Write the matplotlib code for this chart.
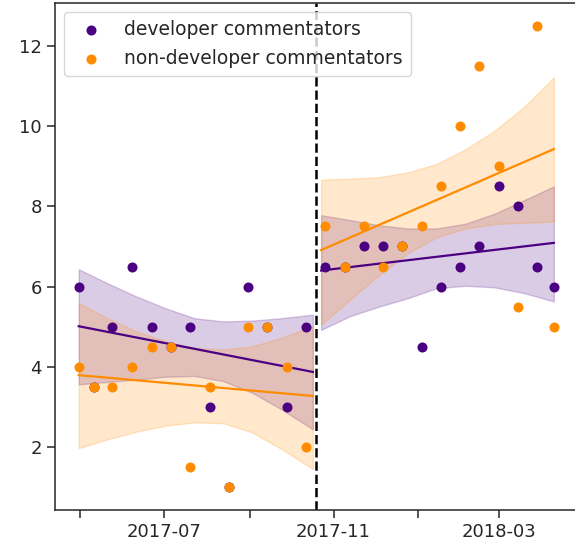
import matplotlib
matplotlib.use('Agg')
import matplotlib.pyplot as plt
import numpy as np

# ---- data ----
pre_dates = ['2017-04-30', '2017-05-11', '2017-05-24', '2017-06-08', '2017-06-22', '2017-07-06',
             '2017-07-20', '2017-08-03', '2017-08-17', '2017-08-31', '2017-09-14', '2017-09-28',
             '2017-10-12']
post_dates = ['2017-10-26', '2017-11-09', '2017-11-23', '2017-12-07', '2017-12-21', '2018-01-04',
              '2018-01-18', '2018-02-01', '2018-02-15', '2018-03-01', '2018-03-15', '2018-03-29',
              '2018-04-10']
dev_pre = [6, 3.5, 5, 6.5, 5, 4.5, 5, 3, 1, 6, 5, 3, 5]
nondev_pre = [4, 3.5, 3.5, 4, 4.5, 4.5, 1.5, 3.5, 1, 5, 5, 4, 2]
dev_post = [6.5, 6.5, 7, 7, 7, 4.5, 6, 6.5, 7, 8.5, 8, 6.5, 6]
nondev_post = [7.5, 6.5, 7.5, 6.5, 7, 7.5, 8.5, 10, 11.5, 9, 5.5, 12.5, 5]

intervention_date = '2017-10-19'

# regression fits (values at segment start / end) and confidence bands
pre_fit_dates = ['2017-04-30', '2017-10-17']
post_fit_dates = ['2017-10-23', '2018-04-10']
dev_pre_fit = [5.01, 3.87]
nondev_pre_fit = [3.79, 3.27]
dev_post_fit = [6.40, 7.09]
nondev_post_fit = [6.91, 9.43]

pre_band_dates = ['2017-04-30', '2017-05-21', '2017-06-11', '2017-07-02', '2017-07-23',
                  '2017-08-13', '2017-09-03', '2017-09-24', '2017-10-17']
post_band_dates = ['2017-10-23', '2017-11-13', '2017-12-04', '2017-12-25', '2018-01-15',
                   '2018-02-05', '2018-02-26', '2018-03-19', '2018-04-10']
dev_pre_upper = [6.43, 6.08, 5.75, 5.46, 5.21, 5.13, 5.15, 5.21, 5.30]
dev_pre_lower = [3.56, 3.62, 3.68, 3.75, 3.77, 3.64, 3.35, 2.94, 2.44]
nondev_pre_upper = [5.59, 5.21, 4.88, 4.64, 4.47, 4.43, 4.51, 4.72, 5.01]
nondev_pre_lower = [1.97, 2.19, 2.38, 2.53, 2.61, 2.59, 2.36, 1.95, 1.45]
dev_post_upper = [7.78, 7.66, 7.53, 7.45, 7.45, 7.57, 7.82, 8.15, 8.50]
dev_post_lower = [4.92, 5.26, 5.50, 5.71, 5.96, 6.02, 5.98, 5.84, 5.63]
nondev_post_upper = [8.67, 8.69, 8.73, 8.85, 9.06, 9.43, 9.89, 10.47, 11.22]
nondev_post_lower = [5.05, 5.67, 6.29, 6.83, 7.23, 7.45, 7.56, 7.59, 7.62]

series_labels = ['developer commentators', 'non-developer commentators']
tick_dates = ['2017-05-01', '2017-07-01', '2017-09-01', '2017-11-01', '2018-01-01', '2018-03-01']
tick_labels = ['', '2017-07', '', '2017-11', '', '2018-03']

# ---- style ----
DEV = '#4B0082'
NONDEV = '#FF8C00'
TEXT = '#262626'
plt.rcParams['font.family'] = ['DejaVu Sans']
plt.rcParams['font.size'] = 13

def d(lst):
    return np.array(lst, dtype='datetime64[D]')

fig = plt.figure(figsize=(5.75, 5.52), dpi=100)
ax = fig.add_axes([55 / 575, 42 / 552, (577.6 - 55) / 575, (549 - 42) / 552])

# bands
for bd, lo, up, c in [(pre_band_dates, dev_pre_lower, dev_pre_upper, DEV),
                      (pre_band_dates, nondev_pre_lower, nondev_pre_upper, NONDEV),
                      (post_band_dates, dev_post_lower, dev_post_upper, DEV),
                      (post_band_dates, nondev_post_lower, nondev_post_upper, NONDEV)]:
    ax.fill_between(d(bd), lo, up, color=c, alpha=0.2, linewidth=1, zorder=1)

# fit lines
for fd, fv, c in [(pre_fit_dates, dev_pre_fit, DEV), (pre_fit_dates, nondev_pre_fit, NONDEV),
                  (post_fit_dates, dev_post_fit, DEV), (post_fit_dates, nondev_post_fit, NONDEV)]:
    ax.plot(d(fd), fv, color=c, lw=1.6, zorder=2)

# points
ax.scatter(d(pre_dates + post_dates), dev_pre + dev_post, s=52, color=DEV,
           linewidths=0, zorder=3, label=series_labels[0])
ax.scatter(d(pre_dates + post_dates), nondev_pre + nondev_post, s=52, color=NONDEV,
           linewidths=0, zorder=4, label=series_labels[1])

ax.axvline(np.datetime64(intervention_date), color='black', ls='--', lw=1.8, zorder=2.5)

ax.set_xticks(d(tick_dates))
ax.set_xticklabels(tick_labels)
ax.tick_params(axis='both', length=6, width=1.1, color=TEXT, labelcolor=TEXT, labelsize=13)
for sp in ax.spines.values():
    sp.set_color(TEXT)
    sp.set_linewidth(1.1)

leg = ax.legend(loc='upper left', fontsize=13.5, frameon=True, labelspacing=0.55)
for t in leg.get_texts():
    t.set_color(TEXT)

fig.savefig('out.png', dpi=100)
